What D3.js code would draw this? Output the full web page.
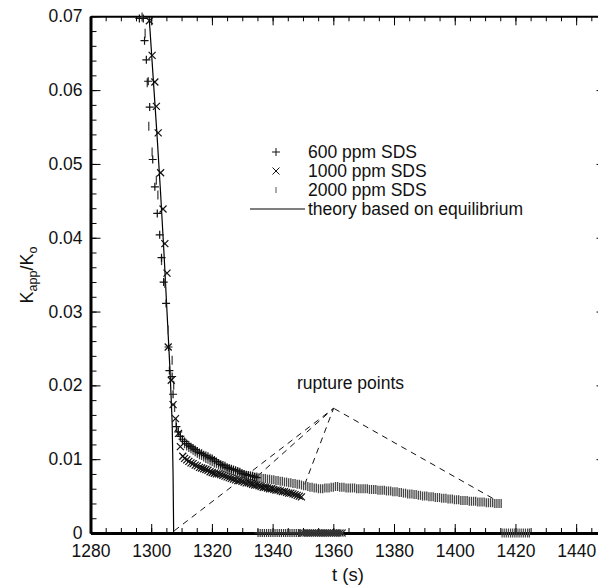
<!DOCTYPE html>
<html>
<head>
<meta charset="utf-8">
<script src="https://cdn.jsdelivr.net/npm/d3@7"></script>
<style>
body { margin: 0; background: #fff; }
svg { display: block; font-family: "Liberation Sans", Arial, sans-serif; }
</style>
</head>
<body>
<svg id="chart" width="598" height="587"></svg>
<script>
// ---- data: [t (s), Kapp/Ko] ----
var sds600 = [
  [1296.1,0.0697],[1297.4,0.0697],[1297.8,0.0667],[1298.4,0.0641],[1299.0,0.0612],[1299.5,0.0577],
  [1300.5,0.0506],[1301.2,0.0469],[1302.0,0.0433],[1302.8,0.0404],[1303.4,0.0373],[1304.1,0.0340],
  [1304.9,0.0311],[1305.7,0.0252],[1306.0,0.0220],[1306.9,0.0212],[1307.2,0.0188],[1308.3,0.0144],
  [1308.9,0.0137],[1309.6,0.0131],[1310.3,0.0127],[1311.0,0.0124],[1311.7,0.0121],[1312.4,0.0119],
  [1313.1,0.0117],[1313.8,0.0115],[1314.5,0.0113],[1315.2,0.0111],[1315.9,0.0109],[1316.6,0.0108],
  [1317.3,0.0106],[1318.0,0.0105],[1318.7,0.0104],[1319.4,0.0102],[1320.1,0.0101],[1320.8,0.0099],
  [1321.5,0.0097],[1322.2,0.0095],[1322.9,0.0093],[1323.6,0.0092],[1324.3,0.0091],[1325.0,0.0089],
  [1325.7,0.0088],[1326.4,0.0087],[1327.1,0.0086],[1327.8,0.0085],[1328.5,0.0084],[1329.2,0.0083],
  [1329.9,0.0081],[1330.6,0.0080],[1331.3,0.0079],[1332.0,0.0078],[1332.7,0.0078],[1333.4,0.0077],
  [1334.1,0.0076],[1334.8,0.0075]
];
var sds1000 = [
  [1299.4,0.0694],[1300.3,0.0647],[1301.2,0.0611],[1301.7,0.0578],[1302.3,0.0542],[1303.1,0.0488],
  [1303.9,0.0439],[1304.5,0.0392],[1305.2,0.0352],[1305.6,0.0252],[1306.6,0.0207],[1307.2,0.0174],
  [1308.0,0.0155],[1309.0,0.0135],[1309.6,0.0117],[1310.4,0.0104],
  [1311.0,0.0101],[1311.7,0.0099],[1312.4,0.0097],[1313.1,0.0095],[1313.8,0.0094],[1314.5,0.0092],
  [1315.2,0.0091],[1315.9,0.0089],[1316.6,0.0088],[1317.3,0.0087],[1318.0,0.0086],[1318.7,0.0085],
  [1319.4,0.0083],[1320.1,0.0082],[1320.8,0.0081],[1321.5,0.0080],[1322.2,0.0080],[1322.9,0.0079],
  [1323.6,0.0078],[1324.3,0.0077],[1325.0,0.0076],[1325.7,0.0075],[1326.4,0.0074],[1327.1,0.0073],
  [1327.8,0.0072],[1328.5,0.0071],[1329.2,0.0071],[1329.9,0.0070],[1330.6,0.0069],[1331.3,0.0068],
  [1332.0,0.0068],[1332.7,0.0067],[1333.4,0.0066],[1334.1,0.0065],[1334.8,0.0065],[1335.5,0.0064],
  [1336.2,0.0063],[1336.9,0.0062],[1337.6,0.0062],[1338.3,0.0061],[1339.0,0.0060],[1339.7,0.0060],
  [1340.4,0.0059],[1341.1,0.0058],[1341.8,0.0058],[1342.5,0.0057],[1343.2,0.0056],[1343.9,0.0056],
  [1344.6,0.0055],[1345.3,0.0054],[1346.0,0.0054],[1346.7,0.0053],[1347.4,0.0052],[1348.1,0.0051],
  [1348.8,0.0050],[1349.5,0.0049]
];
var sds2000 = [
  [1297.0,0.0699],[1298.0,0.0677],[1298.7,0.0610],[1299.2,0.0551],[1300.3,0.0516],[1301.7,0.0478],
  [1302.2,0.0458],[1303.4,0.0369],[1304.5,0.0338],[1305.6,0.0275],[1306.9,0.0234],[1307.4,0.0200],
  [1307.7,0.0170],[1308.2,0.0150],[1308.9,0.0138],[1309.6,0.0130],[1310.3,0.0125],[1311.0,0.0121],
  [1311.7,0.0118],[1312.4,0.0116],[1313.1,0.0114],[1313.8,0.0112],[1314.5,0.0110],[1315.2,0.0108],
  [1315.9,0.0106],[1316.6,0.0105],[1317.3,0.0103],[1318.0,0.0101],[1318.7,0.0100],[1319.4,0.0098],
  [1320.1,0.0097],[1320.8,0.0095],[1321.5,0.0094],[1322.2,0.0092],[1322.9,0.0091],[1323.6,0.0089],
  [1324.3,0.0088],[1325.0,0.0087],[1325.7,0.0086],[1326.4,0.0085],[1327.1,0.0084],[1327.8,0.0083],
  [1328.5,0.0082],[1329.2,0.0081],[1329.9,0.0080],[1330.6,0.0079],[1331.3,0.0078],[1332.0,0.0078],
  [1332.7,0.0077],[1333.4,0.0077],[1334.1,0.0076],[1334.8,0.0076],[1335.5,0.0075],[1336.2,0.0075],
  [1336.9,0.0074],[1337.6,0.0074],[1338.3,0.0073],[1339.0,0.0073],[1339.7,0.0072],[1340.4,0.0072],
  [1341.1,0.0071],[1341.8,0.0071],[1342.5,0.0070],[1343.2,0.0070],[1343.9,0.0069],[1344.6,0.0069],
  [1345.3,0.0068],[1346.0,0.0068],[1346.7,0.0067],[1347.4,0.0067],[1348.1,0.0066],[1348.8,0.0066],
  [1349.5,0.0065],[1350.2,0.0064],[1350.9,0.0064],[1351.6,0.0063],[1352.3,0.0062],[1353.0,0.0062],
  [1353.7,0.0061],[1354.4,0.0061],[1355.1,0.0060],[1355.8,0.0060],[1356.5,0.0060],[1357.2,0.0061],
  [1357.9,0.0061],[1358.6,0.0061],[1359.3,0.0062],[1360.0,0.0062],[1360.7,0.0063],[1361.4,0.0063],
  [1362.1,0.0062],[1362.8,0.0062],[1363.5,0.0062],[1364.2,0.0061],[1364.9,0.0061],[1365.6,0.0061],
  [1366.3,0.0061],[1367.0,0.0061],[1367.7,0.0060],[1368.4,0.0060],[1369.1,0.0060],[1369.8,0.0060],
  [1370.5,0.0060],[1371.2,0.0060],[1371.9,0.0059],[1372.6,0.0059],[1373.3,0.0059],[1374.0,0.0059],
  [1374.7,0.0058],[1375.4,0.0058],[1376.1,0.0058],[1376.8,0.0058],[1377.5,0.0057],[1378.2,0.0057],
  [1378.9,0.0057],[1379.6,0.0056],[1380.3,0.0056],[1381.0,0.0056],[1381.7,0.0055],[1382.4,0.0055],
  [1383.1,0.0054],[1383.8,0.0054],[1384.5,0.0053],[1385.2,0.0053],[1385.9,0.0053],[1386.6,0.0052],
  [1387.3,0.0052],[1388.0,0.0051],[1388.7,0.0051],[1389.4,0.0050],[1390.1,0.0050],[1390.8,0.0050],
  [1391.5,0.0049],[1392.2,0.0049],[1392.9,0.0049],[1393.6,0.0048],[1394.3,0.0048],[1395.0,0.0048],
  [1395.7,0.0047],[1396.4,0.0047],[1397.1,0.0047],[1397.8,0.0046],[1398.5,0.0046],[1399.2,0.0046],
  [1399.9,0.0045],[1400.6,0.0045],[1401.3,0.0045],[1402.0,0.0044],[1402.7,0.0044],[1403.4,0.0044],
  [1404.1,0.0044],[1404.8,0.0043],[1405.5,0.0043],[1406.2,0.0043],[1406.9,0.0043],[1407.6,0.0042],
  [1408.3,0.0042],[1409.0,0.0042],[1409.7,0.0042],[1410.4,0.0041],[1411.1,0.0041],[1411.8,0.0041],
  [1412.5,0.0041],[1413.2,0.0040],[1413.9,0.0040],[1414.6,0.0040],[1415.3,0.0040]
];
// after rupture the points sit on zero
var sds600Zero = [1335.2,1335.9,1336.6,1337.3,1338.0,1338.7,1339.4,1340.1,1340.8,1341.5,1342.2,
  1342.9,1343.6,1344.3,1345.0,1345.7,1346.4,1347.1,1347.8,1348.5,1349.0];
var sds1000Zero = [1349.6,1350.3,1351.0,1351.7,1352.4,1353.1,1353.8,1354.5,1355.2,1355.9,1356.6,
  1357.3,1358.0,1358.7,1359.4,1360.1,1360.8,1361.5,1362.2,1362.9];
var sds2000Zero = [1415.6,1416.3,1417.0,1417.7,1418.4,1419.1,1419.8,1420.5,1421.2,1421.9,1422.6,
  1423.3,1424.0,1424.6];
var theory = [[1299.3,0.070],[1300.6,0.062],[1301.9,0.054],[1303.1,0.046],[1304.2,0.038],
  [1305.2,0.030],[1306.2,0.022],[1306.9,0.015],[1307.2,0.008],[1307.4,0.0]];
// rupture annotation
var ruptureApex = [1360.1, 0.0169];
var ruptureEnds = [[1307.6,0.0003],[1335.0,0.0077],[1350.6,0.0066],[1412.5,0.0047]];

var xTicks = [1280,1300,1320,1340,1360,1380,1400,1420,1440];
var yTicks = [0,0.01,0.02,0.03,0.04,0.05,0.06,0.07];
var yTickLabels = ['0','0.01','0.02','0.03','0.04','0.05','0.06','0.07'];
var legendLabels = ['600 ppm SDS','1000 ppm SDS','2000 ppm SDS','theory based on equilibrium'];

// ---- layout ----
var svg = d3.select('#chart');
var x = d3.scaleLinear().domain([1280,1450]).range([90.5,606.5]);
var y = d3.scaleLinear().domain([0,0.07]).range([533,16.3]);
var xMinor = d3.range(1280,1451,5);
var yMinor = d3.range(0,0.0701,0.002);

var plus = 'M-4,0H4M0,-4V4';
var cross = 'M-3.5,-3.5L3.5,3.5M-3.5,3.5L3.5,-3.5';
var bar = 'M0,-4.5V4.5';

function fixAxis(g, w) {
    g.attr('font-size', 17.5).attr('font-family', '"Liberation Sans", Arial, sans-serif');
    g.select('.domain').attr('stroke-width', w);
    g.selectAll('text').attr('fill', '#111');
}

// minor ticks
svg.append('g').attr('transform', 'translate(0,533)')
    .call(d3.axisBottom(x).tickValues(xMinor).tickSize(-5).tickFormat(''))
    .call(g => g.select('.domain').remove());
svg.append('g').attr('transform', 'translate(0,16.3)')
    .call(d3.axisTop(x).tickValues(xMinor).tickSize(-5).tickFormat(''))
    .call(g => g.select('.domain').remove());
svg.append('g').attr('transform', 'translate(90.5,0)')
    .call(d3.axisLeft(y).tickValues(yMinor).tickSize(-6).tickFormat(''))
    .call(g => g.select('.domain').remove());
svg.append('g').attr('transform', 'translate(606.5,0)')
    .call(d3.axisRight(y).tickValues(yMinor).tickSize(-6).tickFormat(''))
    .call(g => g.select('.domain').remove());

// major axes
svg.append('g').attr('transform', 'translate(0,16.3)')
    .call(d3.axisTop(x).tickValues(xTicks).tickSize(-9).tickSizeOuter(0).tickFormat(''))
    .call(g => fixAxis(g, 2));
svg.append('g').attr('transform', 'translate(606.5,0)')
    .call(d3.axisRight(y).tickValues(yTicks).tickSize(-10).tickSizeOuter(0).tickFormat(''))
    .call(g => fixAxis(g, 2));
svg.append('g').attr('transform', 'translate(0,533)')
    .call(d3.axisBottom(x).tickValues(xTicks).tickSize(-9).tickSizeOuter(0).tickPadding(12)
        .tickFormat(d3.format('d')))
    .call(g => fixAxis(g, 3));
svg.append('g').attr('transform', 'translate(90.5,0)')
    .call(d3.axisLeft(y).tickValues(yTicks).tickSize(-10).tickSizeOuter(0).tickPadding(8)
        .tickFormat((d, i) => yTickLabels[i]))
    .call(g => fixAxis(g, 3));

// axis titles
svg.append('text')
    .attr('x', 348).attr('y', 581)
    .attr('text-anchor', 'middle')
    .attr('font-size', 18.5).attr('fill', '#111')
    .text('t (s)');
var ylab = svg.append('text')
    .attr('transform', 'translate(33,275) rotate(-90)')
    .attr('text-anchor', 'middle')
    .attr('font-size', 18).attr('fill', '#111');
ylab.append('tspan').text('K');
ylab.append('tspan').attr('font-size', 12.5).attr('dy', 4).text('app');
ylab.append('tspan').attr('dy', -4).text('/K');
ylab.append('tspan').attr('font-size', 12.5).attr('dy', 4).text('o');

// rupture dashed lines
svg.append('g')
    .selectAll('line')
    .data(ruptureEnds).enter()
    .append('line')
        .attr('x1', d => x(d[0]))
        .attr('y1', d => y(d[1]))
        .attr('x2', x(ruptureApex[0]))
        .attr('y2', y(ruptureApex[1]))
        .attr('stroke', '#111')
        .attr('stroke-width', 1)
        .attr('stroke-dasharray', '6,5');
svg.append('text')
    .attr('x', 297).attr('y', 389)
    .attr('font-size', 17.5).attr('fill', '#111')
    .text('rupture points');

// theory line
svg.append('path')
    .datum(theory)
    .attr('fill', 'none')
    .attr('stroke', '#000')
    .attr('stroke-width', 1.2)
    .attr('d', d3.line().x(d => x(d[0])).y(d => y(d[1])));

function drawMarks(data, shape, color, w) {
    svg.append('g')
        .selectAll('path')
        .data(data).enter()
        .append('path')
            .attr('transform', d => 'translate(' + x(d[0]) + ',' + y(d[1]) + ')')
            .attr('d', shape)
            .attr('fill', 'none')
            .attr('stroke', color)
            .attr('stroke-width', w);
}
drawMarks(sds2000, bar, '#444', 1.3);
drawMarks(sds2000Zero.map(t => [t, 0]), bar, '#444', 1.2);
drawMarks(sds600, plus, '#111', 1.2);
drawMarks(sds600Zero.map(t => [t, 0]), plus, '#333', 1.2);
drawMarks(sds1000, cross, '#111', 1.2);
drawMarks(sds1000Zero.map(t => [t, 0]), cross, '#333', 1.2);

// legend
var legendY = [152, 171, 190, 209];
var leg = svg.append('g');
leg.append('path').attr('transform', 'translate(276,' + legendY[0] + ')')
    .attr('d', plus).attr('stroke', '#111').attr('fill', 'none');
leg.append('path').attr('transform', 'translate(276,' + legendY[1] + ')')
    .attr('d', cross).attr('stroke', '#111').attr('fill', 'none');
leg.append('path').attr('transform', 'translate(276,' + legendY[2] + ')')
    .attr('d', 'M0,-3V3').attr('stroke', '#555').attr('fill', 'none');
leg.append('line')
    .attr('x1', 250).attr('x2', 305)
    .attr('y1', legendY[3]).attr('y2', legendY[3])
    .attr('stroke', '#000').attr('stroke-width', 1.2);
leg.selectAll('text')
    .data(legendLabels).enter()
    .append('text')
        .attr('x', 308)
        .attr('y', (d, i) => legendY[i] + 6)
        .attr('font-size', 17.5)
        .attr('fill', '#111')
        .text(d => d);
</script>
</body>
</html>
